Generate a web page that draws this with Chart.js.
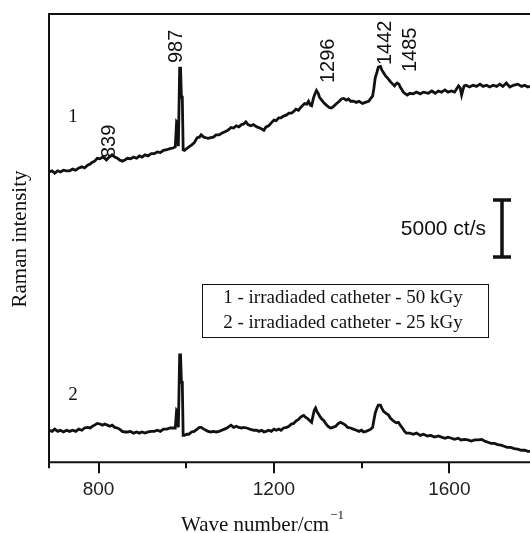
<!DOCTYPE html>
<html>
<head>
<meta charset="utf-8">
<script src="https://cdn.jsdelivr.net/npm/chart.js@4.4.1/dist/chart.umd.min.js"></script>
<style>
  html, body { margin: 0; padding: 0; background: #fff; }
</style>
</head>
<body>
<canvas id="ramanChart" width="530" height="533"></canvas>
<script>
// x range and ticks (cm-1)
var xMin = 687, xMax = 1784;
var xTicks = [800, 1200, 1600];
var xMinorTicks = [1000, 1400];
var yMax = 39300; // ct/s, curves are offset

// spectrum 1 - irradiated catheter 50 kGy
var wave1 = [687,694,700,707,713,720,727,734,741,748,755,762,768,775,781,786,791,797,803,809,814,818,824,831,837,843,848,854,860,866,873,880,887,893,899,906,913,920,927,934,941,948,956,963,970,975,978,980,982,985,987,989,991,993,996,1001,1006,1012,1018,1025,1030,1034,1040,1045,1050,1056,1062,1068,1075,1081,1087,1093,1098,1102,1108,1114,1120,1126,1131,1136,1141,1147,1153,1161,1168,1173,1177,1182,1188,1194,1200,1205,1211,1216,1222,1229,1234,1240,1245,1250,1256,1261,1266,1270,1275,1279,1283,1286,1290,1293,1297,1301,1304,1309,1313,1317,1320,1326,1331,1336,1343,1349,1354,1359,1365,1370,1375,1381,1388,1394,1402,1408,1416,1420,1425,1428,1431,1435,1438,1443,1446,1450,1455,1459,1463,1466,1471,1475,1478,1481,1485,1488,1492,1495,1500,1504,1510,1518,1525,1534,1541,1552,1560,1568,1575,1582,1590,1597,1605,1612,1616,1621,1625,1628,1631,1634,1638,1646,1654,1662,1670,1677,1685,1692,1700,1708,1715,1722,1730,1738,1746,1756,1765,1772,1779,1784];
var int1 = [25450,25550,25350,25550,25450,25600,25550,25550,25700,25600,25800,25900,25800,26050,26150,26300,26400,26650,26600,26750,26650,26500,26750,26950,26750,26650,26500,26400,26500,26650,26600,26750,26650,26850,26750,26950,26850,27050,27050,27200,27150,27350,27400,27500,27550,27650,29850,29750,27700,34550,34550,32000,32000,27400,27350,27500,27650,27800,28000,28450,28500,28700,28500,28450,28400,28450,28500,28700,28700,28850,28950,29050,29200,29350,29300,29500,29400,29600,29650,29850,29600,29500,29600,29400,29300,29200,29100,29400,29500,29750,30000,29950,30200,30200,30350,30450,30600,30600,30750,30950,30850,31100,31300,31450,31400,31650,31300,31250,31900,32250,32600,32350,32000,31750,31550,31400,31300,31100,31050,31200,31450,31650,31850,31900,31750,31850,31650,31650,31550,31650,31450,31550,31650,31850,32100,32800,33700,34200,34650,34700,34400,34150,33850,33700,33500,33350,33150,33000,33150,33250,33150,32900,32650,32450,32300,32200,32350,32300,32450,32300,32450,32350,32550,32350,32550,32450,32650,32450,32550,32450,32700,33000,32800,32200,32650,33000,33050,32900,33050,32950,33150,32950,33050,32900,33050,32950,33150,32950,33250,32900,33050,33150,32950,33050,32900,32950];

// spectrum 2 - irradiated catheter 25 kGy
var wave2 = [687,694,700,707,713,720,727,734,741,748,755,762,768,775,781,786,791,797,803,809,814,820,826,831,837,843,848,854,860,866,873,880,887,893,899,906,913,920,927,934,941,948,956,963,970,975,978,980,982,985,987,989,991,993,996,1001,1006,1012,1018,1025,1030,1034,1040,1045,1050,1056,1062,1068,1075,1081,1087,1093,1098,1102,1108,1114,1120,1126,1131,1138,1145,1154,1160,1166,1172,1177,1182,1188,1194,1200,1205,1211,1216,1222,1229,1234,1240,1245,1250,1256,1261,1265,1268,1272,1276,1279,1283,1286,1289,1292,1295,1298,1302,1306,1310,1313,1318,1323,1329,1334,1341,1347,1352,1357,1363,1368,1375,1381,1388,1394,1400,1404,1410,1416,1421,1425,1428,1431,1435,1438,1443,1446,1450,1455,1461,1466,1470,1473,1479,1484,1488,1493,1498,1502,1510,1518,1525,1534,1541,1550,1558,1566,1575,1582,1590,1597,1605,1612,1620,1627,1635,1642,1650,1658,1666,1674,1681,1688,1695,1703,1710,1718,1725,1732,1740,1748,1756,1764,1772,1779,1784];
var int2 = [2800,2700,2900,2700,2800,2650,2800,2700,2800,2700,2900,2800,3000,3050,3000,3150,3250,3400,3350,3250,3350,3250,3150,3250,3050,3000,2900,2700,2650,2650,2700,2550,2650,2550,2650,2550,2650,2700,2700,2800,2700,2900,2900,3000,3000,3000,4550,4450,3050,9400,9400,7000,7000,2350,2350,2450,2450,2650,2700,2900,3050,3050,2900,2800,2700,2650,2700,2650,2700,2800,2900,3000,3150,3250,3050,3150,3050,3000,3050,3000,2900,2800,2800,2700,2800,2650,2700,2800,2700,2900,2800,2900,2800,3000,3050,3150,3350,3400,3600,3750,3950,4050,4100,3950,3850,3750,3600,3500,4050,4550,4750,4450,4200,3950,3750,3700,3400,3150,3000,3050,3150,3400,3500,3400,3250,3050,3000,2900,2800,2700,2800,2650,2700,2800,2900,3050,3700,4300,4750,5000,5000,4750,4450,4300,4150,3850,3700,3600,3450,3500,3250,3000,2700,2550,2550,2450,2550,2350,2450,2300,2350,2200,2300,2200,2100,2200,2100,2000,2100,1950,2000,1950,1850,1950,1950,2000,1850,1750,1650,1650,1550,1500,1400,1300,1300,1200,1150,1050,1050,950,950];

// peak labels (cm-1)
var peakLabels = ["839", "987", "1296", "1442", "1485"];
var peakValues = [839, 987, 1296, 1442, 1485];
var scaleBarValue = 5000;
var legendLines = ["1 - irradiaded catheter - 50 kGy", "2 - irradiaded catheter - 25 kGy"];
var curveNames = ["1", "2"];

// label placement (pixels)
var peakOffsets = [{dx: -6, bottom: 158}, {dx: -4, bottom: 63}, {dx: 12, bottom: 83}, {dx: 5, bottom: 65}, {dx: 12, bottom: 72}];
var curveNamePos = [{x: 73, y: 117}, {x: 73, y: 395}];

var decorations = {
    id: "decorations",
    afterDraw: function(chart) {
        var c = chart.ctx, a = chart.chartArea;
        var xs = chart.scales.x, ys = chart.scales.y;
        c.save();
        c.strokeStyle = "#111";
        c.lineWidth = 2;
        // frame: top, left, bottom
        c.beginPath();
        c.moveTo(a.right, a.top); c.lineTo(a.left, a.top); c.lineTo(a.left, a.bottom + 6);
        c.moveTo(a.left, a.bottom); c.lineTo(a.right, a.bottom);
        xTicks.forEach(function(v) {
            var px = Math.round(xs.getPixelForValue(v));
            c.moveTo(px, a.bottom); c.lineTo(px, a.bottom + 11);
        });
        xMinorTicks.forEach(function(v) {
            var px = Math.round(xs.getPixelForValue(v));
            c.moveTo(px, a.bottom); c.lineTo(px, a.bottom + 6);
        });
        c.stroke();

        // peak labels, rotated
        c.fillStyle = "#111";
        c.font = "20px 'Liberation Sans', Arial, sans-serif";
        c.textAlign = "left";
        c.textBaseline = "middle";
        peakLabels.forEach(function(t, i) {
            var px = xs.getPixelForValue(peakValues[i]) + peakOffsets[i].dx;
            c.save();
            c.translate(px, peakOffsets[i].bottom);
            c.rotate(-Math.PI / 2);
            c.fillText(t, 0, 0);
            c.restore();
        });

        // curve numbers
        c.font = "19px 'Liberation Serif', 'Times New Roman', serif";
        c.textAlign = "center";
        curveNames.forEach(function(t, i) {
            c.fillText(t, curveNamePos[i].x, curveNamePos[i].y);
        });

        // legend box
        c.lineWidth = 1;
        c.strokeRect(202.5, 284.5, 286, 53);
        c.font = "19px 'Liberation Serif', 'Times New Roman', serif";
        c.fillText(legendLines[0], 343, 298);
        c.fillText(legendLines[1], 343, 323);

        // scale bar 5000 ct/s
        var bx = Math.round(xs.getPixelForValue(1721));
        var yTop = ys.getPixelForValue(23000), yBot = ys.getPixelForValue(23000 - scaleBarValue);
        c.lineWidth = 3.5;
        c.beginPath();
        c.moveTo(bx, yTop); c.lineTo(bx, yBot);
        c.moveTo(bx - 9, yTop); c.lineTo(bx + 9, yTop);
        c.moveTo(bx - 9, yBot); c.lineTo(bx + 9, yBot);
        c.stroke();
        c.font = "21px 'Liberation Sans', Arial, sans-serif";
        c.textAlign = "right";
        c.fillText(scaleBarValue + " ct/s", bx - 16, (yTop + yBot) / 2 + 1);

        // axis titles
        c.font = "21px 'Liberation Serif', 'Times New Roman', serif";
        c.textAlign = "left";
        var t1 = "Wave number/cm";
        var w1 = c.measureText(t1).width;
        c.font = "13px 'Liberation Serif', 'Times New Roman', serif";
        var w2 = c.measureText("\u22121").width;
        var x0 = 262 - (w1 + w2) / 2;
        c.font = "21px 'Liberation Serif', 'Times New Roman', serif";
        c.fillText(t1, x0, 525);
        c.font = "13px 'Liberation Serif', 'Times New Roman', serif";
        c.fillText("\u22121", x0 + w1 + 1, 516);

        c.font = "21px 'Liberation Serif', 'Times New Roman', serif";
        c.textAlign = "center";
        c.save();
        c.translate(20, 239);
        c.rotate(-Math.PI / 2);
        c.fillText("Raman intensity", 0, 0);
        c.restore();
        c.restore();
    }
};

var ctx = document.getElementById("ramanChart").getContext("2d");
var ramanChart = new Chart(ctx, {
    type: "line",
    data: {
        datasets: [{
            label: legendLines[0],
            data: wave1.map(function(w, i) { return {x: w, y: int1[i]}; }),
            borderColor: "#111",
            borderWidth: 2.8,
            pointRadius: 0,
            tension: 0
        }, {
            label: legendLines[1],
            data: wave2.map(function(w, i) { return {x: w, y: int2[i]}; }),
            borderColor: "#111",
            borderWidth: 2.8,
            pointRadius: 0,
            tension: 0
        }]
    },
    options: {
        responsive: false,
        animation: false,
        devicePixelRatio: 1,
        layout: {padding: {left: 49, top: 14, right: 0, bottom: 16}},
        plugins: {legend: {display: false}, tooltip: {enabled: false}},
        scales: {
            x: {
                type: "linear",
                min: xMin,
                max: xMax,
                border: {display: false},
                grid: {display: false, drawTicks: false},
                afterBuildTicks: function(scale) {
                    scale.ticks = xTicks.map(function(v) { return {value: v}; });
                },
                ticks: {
                    padding: 16,
                    color: "#222",
                    font: {family: "'Liberation Sans', Arial, sans-serif", size: 19},
                    callback: function(v) { return String(v); }
                }
            },
            y: {
                display: false,
                min: 0,
                max: yMax
            }
        }
    },
    plugins: [decorations]
});
</script>
</body>
</html>
